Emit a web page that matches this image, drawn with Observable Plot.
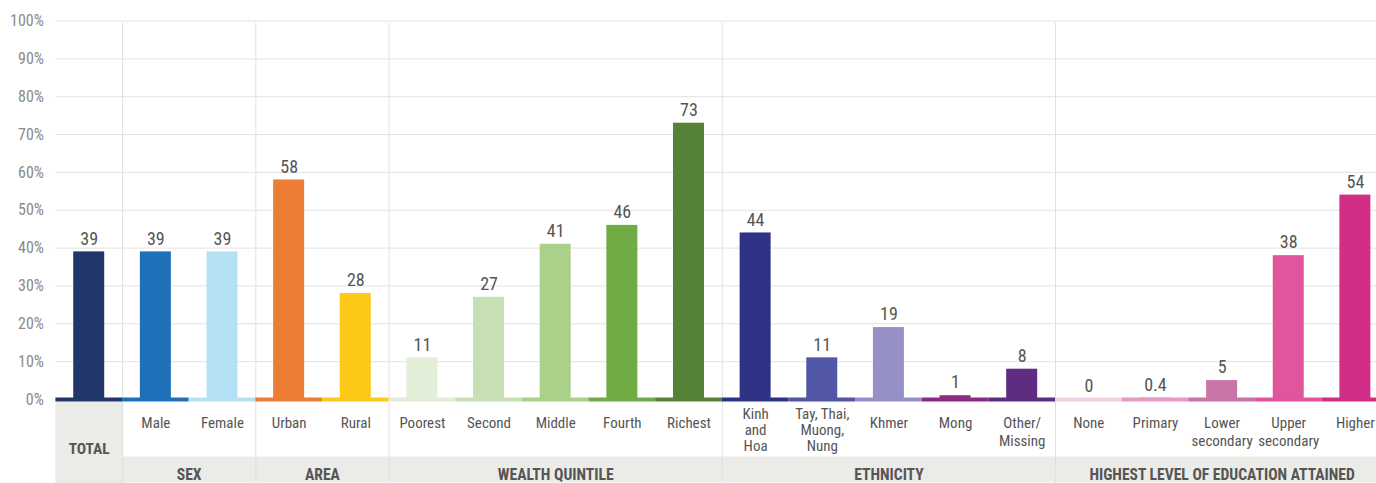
<!DOCTYPE html>
<html><head><meta charset="utf-8">
<script src="https://cdn.jsdelivr.net/npm/d3@7"></script>
<script src="https://cdn.jsdelivr.net/npm/@observablehq/plot@0.6"></script>
<style>
html,body{margin:0;padding:0;background:#fff;overflow:hidden;}
#chart svg{display:block;}
</style></head><body><div id="chart"></div>
<script>
const categories = ["Total","Male","Female","Urban","Rural","Poorest","Second","Middle","Fourth","Richest",
  "Kinh\nand\nHoa","Tay, Thai,\nMuong,\nNung","Khmer","Mong","Other/\nMissing",
  "None","Primary","Lower\nsecondary","Upper\nsecondary","Higher"];
const values = [39,39,39,58,28,11,27,41,46,73,44,11,19,1,8,0,0.4,5,38,54];
const colors = ["#21376b","#1f70b8","#b5e1f7","#eb7d34","#fdc918","#e2eed8","#c6e0b4","#abd08a","#70ab44","#558237",
  "#2e3285","#5157a6","#9591c6","#8e2a82","#5e2d82","#f5d0e4","#e39bc5","#c874a6","#e0559d","#d22e88"];
const groupNames = ["TOTAL","SEX","AREA","WEALTH QUINTILE","ETHNICITY","HIGHEST LEVEL OF EDUCATION ATTAINED"];
const groupSizes = [1,2,2,5,5,5];
const yTicks = [0,10,20,30,40,50,60,70,80,90,100];

const W = 1376, H = 483;
const x0 = 55.4, step = 66.64;
const padInner = 0.535;
const bw = step * (1 - padInner);
const half = (step - bw) / 2;

const data = categories.map((c, i) => ({cat: c, value: values[i], color: colors[i], lines: c.split("\n").length}));
let s = 0;
const groups = groupNames.map((n, k) => { const g = {name: n, first: s, size: groupSizes[k]}; s += groupSizes[k]; return g; });
const boundaries = groups.slice(1).map(g => g.first);

const font = '"Liberation Sans Narrow","Roboto Condensed","Arial Narrow","DejaVu Sans Condensed",sans-serif';
const txt = "#555555";

const plot = Plot.plot({
  width: W, height: H,
  marginTop: 20.5, marginBottom: 84, marginLeft: x0, marginRight: 0,
  style: {fontFamily: font, background: "#fff"},
  x: {type: "band", domain: categories, range: [x0, x0 + step * categories.length], paddingInner: padInner, paddingOuter: padInner / 2, round: false, axis: null},
  y: {domain: [0, 100], axis: null},
  color: {type: "identity"},
  marks: [
    Plot.gridY(yTicks, {stroke: "#e2e2e2", strokeOpacity: 1}),
    Plot.axisY(yTicks, {tickSize: 0, tickPadding: 12, tickFormat: d => d + "%", fontSize: 16, color: "#8a8a8a", label: null}),
    Plot.ruleY([0], {x1: () => categories[0], x2: () => categories[0], y: 0, dy: 43, strokeWidth: 82, stroke: "#ebebe7", insetLeft: -half, insetRight: -half}),
    Plot.ruleY([0], {x1: () => categories[1], x2: () => categories[categories.length - 1], y: 0, dy: 70, strokeWidth: 26, stroke: "#ebebe7", insetLeft: -half, insetRight: -half}),
    Plot.ruleX(boundaries, {x: i => categories[i], dx: -step / 2, stroke: "#e0e0e0", insetTop: 2, insetBottom: -84}),
    Plot.barY(data, {x: "cat", y: "value", fill: "color"}),
    Plot.tickY(data, {x: "cat", y: 0, stroke: "color", strokeWidth: 4, insetLeft: -half, insetRight: -half}),
    Plot.text(data, {x: "cat", y: "value", text: d => String(d.value), dy: -13, fontSize: 18, fill: txt}),
    Plot.text(data, {filter: (d, i) => i > 0 && d.lines < 3, x: "cat", text: "cat", frameAnchor: "bottom", lineAnchor: "top", dy: 16.7, lineHeight: 1.15, fontSize: 15, fill: txt}),
    Plot.text(data, {filter: d => d.lines === 3, x: "cat", text: "cat", frameAnchor: "bottom", lineAnchor: "top", dy: 8.5, lineHeight: 1.05, fontSize: 15, fill: txt}),
    Plot.text([groups[0]], {x: () => categories[0], text: "name", frameAnchor: "bottom", dy: 54, fontWeight: "bold", fontSize: 15.5, fill: txt}),
    ...groups.slice(1).map(g => Plot.text([g], {x: () => categories[g.first], dx: (g.size - 1) * step / 2, text: "name", frameAnchor: "bottom", dy: 80, fontWeight: "bold", fontSize: 15.6, fill: txt}))
  ]
});
document.getElementById("chart").appendChild(plot);
</script></body></html>
